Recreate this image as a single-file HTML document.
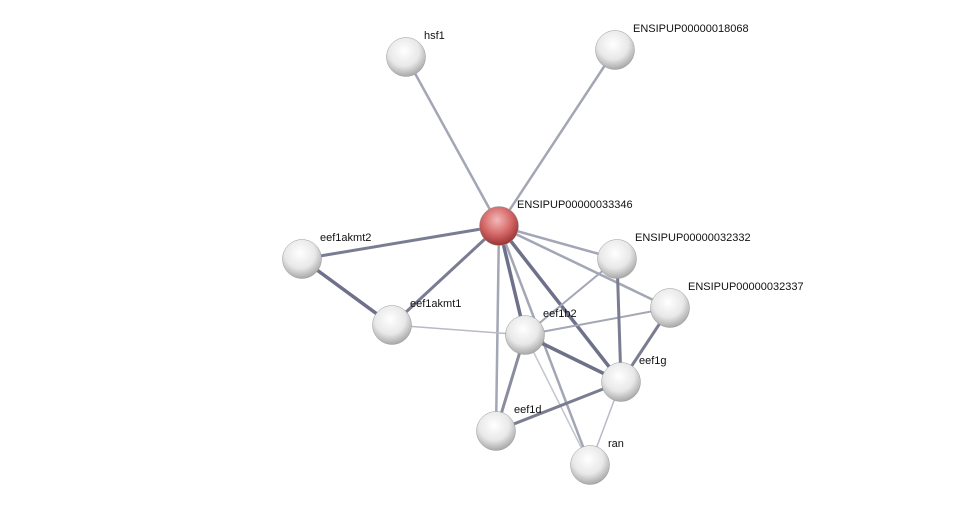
<!DOCTYPE html>
<html><head><meta charset="utf-8"><style>
body{margin:0;background:#fff;width:976px;height:511px;overflow:hidden}
svg{display:block}
text{font-family:"Liberation Sans",sans-serif;font-size:11px;fill:#111}
</style></head><body>
<svg width="976" height="511" viewBox="0 0 976 511">
<defs>
<radialGradient id="g" cx="45%" cy="35%" r="65%">
<stop offset="0" stop-color="#ffffff"/><stop offset="0.6" stop-color="#e8e8e8"/><stop offset="1" stop-color="#a8a8a8"/>
</radialGradient>
<radialGradient id="r" cx="45%" cy="35%" r="65%">
<stop offset="0" stop-color="#f4b8b8"/><stop offset="0.55" stop-color="#d66a6a"/><stop offset="1" stop-color="#9a3333"/>
</radialGradient>
</defs>
<g stroke-linecap="round">
<line x1="499" y1="226" x2="406" y2="57" stroke="#a3a6b5" stroke-width="2.5"/>
<line x1="499" y1="226" x2="615" y2="50" stroke="#a3a6b5" stroke-width="2.5"/>
<line x1="499" y1="226" x2="302" y2="259" stroke="#7a7d92" stroke-width="3"/>
<line x1="499" y1="226" x2="392" y2="325" stroke="#7a7d92" stroke-width="3"/>
<line x1="499" y1="226" x2="617" y2="259" stroke="#a3a6b5" stroke-width="2.5"/>
<line x1="499" y1="226" x2="670" y2="308" stroke="#a3a6b5" stroke-width="2.5"/>
<line x1="499" y1="226" x2="525" y2="335" stroke="#6e7189" stroke-width="3.5"/>
<line x1="499" y1="226" x2="621" y2="382" stroke="#6e7189" stroke-width="3.5"/>
<line x1="499" y1="226" x2="496" y2="431" stroke="#a3a6b5" stroke-width="2.5"/>
<line x1="499" y1="226" x2="590" y2="465" stroke="#a3a6b5" stroke-width="2.5"/>
<line x1="302" y1="259" x2="392" y2="325" stroke="#6e7189" stroke-width="3.5"/>
<line x1="392" y1="325" x2="525" y2="335" stroke="#b8bac6" stroke-width="1.5"/>
<line x1="525" y1="335" x2="617" y2="259" stroke="#a3a6b5" stroke-width="2"/>
<line x1="525" y1="335" x2="670" y2="308" stroke="#a3a6b5" stroke-width="2"/>
<line x1="525" y1="335" x2="621" y2="382" stroke="#6e7189" stroke-width="3.5"/>
<line x1="525" y1="335" x2="496" y2="431" stroke="#8a8da0" stroke-width="3"/>
<line x1="525" y1="335" x2="590" y2="465" stroke="#c3c5cf" stroke-width="1.5"/>
<line x1="617" y1="259" x2="621" y2="382" stroke="#7a7d92" stroke-width="3"/>
<line x1="670" y1="308" x2="621" y2="382" stroke="#7a7d92" stroke-width="3"/>
<line x1="621" y1="382" x2="496" y2="431" stroke="#7a7d92" stroke-width="3"/>
<line x1="621" y1="382" x2="590" y2="465" stroke="#b8bac6" stroke-width="1.5"/>
</g>
<g stroke="#999" stroke-width="0.5">
<circle cx="406" cy="57" r="19.5" fill="url(#g)"/>
<circle cx="615" cy="50" r="19.5" fill="url(#g)"/>
<circle cx="302" cy="259" r="19.5" fill="url(#g)"/>
<circle cx="617" cy="259" r="19.5" fill="url(#g)"/>
<circle cx="670" cy="308" r="19.5" fill="url(#g)"/>
<circle cx="392" cy="325" r="19.5" fill="url(#g)"/>
<circle cx="525" cy="335" r="19.5" fill="url(#g)"/>
<circle cx="621" cy="382" r="19.5" fill="url(#g)"/>
<circle cx="496" cy="431" r="19.5" fill="url(#g)"/>
<circle cx="590" cy="465" r="19.5" fill="url(#g)"/>
<circle cx="499" cy="226" r="19.5" fill="url(#r)"/>
</g>
<text x="424" y="39">hsf1</text>
<text x="633" y="32">ENSIPUP00000018068</text>
<text x="517" y="208">ENSIPUP00000033346</text>
<text x="320" y="241">eef1akmt2</text>
<text x="635" y="241">ENSIPUP00000032332</text>
<text x="688" y="290">ENSIPUP00000032337</text>
<text x="410" y="307">eef1akmt1</text>
<text x="543" y="317">eef1b2</text>
<text x="639" y="364">eef1g</text>
<text x="514" y="413">eef1d</text>
<text x="608" y="447">ran</text>
</svg>
</body></html>
